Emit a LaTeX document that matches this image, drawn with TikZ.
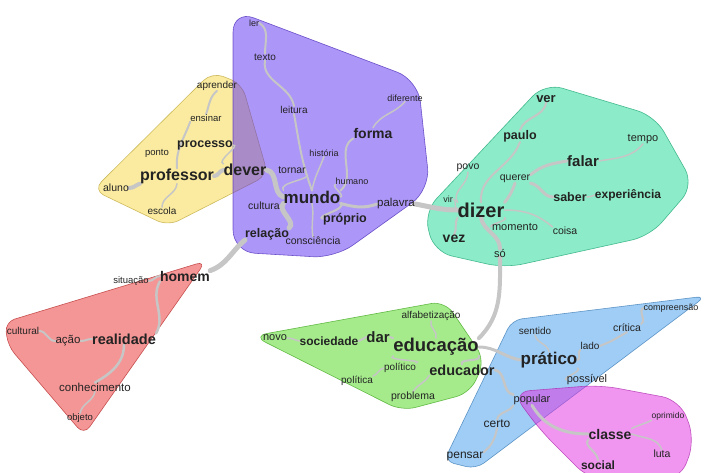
\documentclass[tikz,border=0pt]{standalone}
\usepackage{fontspec}
\setmainfont{Liberation Sans}
\usetikzlibrary{calc}

\definecolor{linkgray}{RGB}{198,198,198}
\definecolor{wordink}{RGB}{35,35,35}
\definecolor{haloyellow}{RGB}{245,215,65}
\definecolor{halopurple}{RGB}{90,45,240}
\definecolor{haloteal}{RGB}{25,215,145}
\definecolor{halored}{RGB}{235,45,45}
\definecolor{halogreen}{RGB}{75,215,25}
\definecolor{haloblue}{RGB}{65,155,235}
\definecolor{halomagenta}{RGB}{225,45,225}

\pgfdeclarelayer{halos}
\pgfdeclarelayer{links}
\pgfsetlayers{halos,links,main}

\begin{document}
\begin{tikzpicture}[
  x=1pt, y=-1pt,
  w/.style    = {inner sep=0pt, text=wordink, font=\fontsize{#1}{#1}\selectfont},
  wb/.style   = {inner sep=0pt, text=wordink, font=\fontsize{#1}{#1}\selectfont\bfseries},
  lnk/.style  = {draw=linkgray, line width=#1, line cap=round},
  halo/.style = {fill=#1, fill opacity=0.5, draw=#1!75!black, draw opacity=0.7,
                 line width=0.6pt, rounded corners=12pt},
]
  \useasboundingbox (0,0) rectangle (711,472);

  % ── halos ─────────────────────────────────────────────────────────────
  \begin{pgfonlayer}{halos}
  \path[halo=haloyellow]  (93,190) -- (212,72) -- (242,84) -- (268,175) -- (168,226) -- cycle;
  \path[halo=halopurple, rounded corners=22pt]
                          (233,10) -- (418,80) -- (430,190) -- (335,258) -- (233,252) -- cycle;
  \path[halo=haloteal, rounded corners=18pt]
                          (424,212) -- (545,83) -- (655,116) -- (694,185) -- (650,236)
                          -- (505,268) -- (434,252) -- cycle;
  \path[halo=halored, rounded corners=10pt]
                          (5,322) -- (206,261) -- (84,435) -- (8,346) -- cycle;
  \path[halo=halogreen, rounded corners=14pt]
                          (253,336) -- (445,301) -- (485,360) -- (470,393) -- (402,411) -- cycle;
  \path[halo=haloblue, rounded corners=10pt]
                          (512,320) -- (706,296) -- (476,469) -- (444,461) -- cycle;
  \path[halo=halomagenta, rounded corners=18pt]
                          (512,392) -- (600,385) -- (680,400) -- (695,440) -- (680,480)
                          -- (590,480) -- (540,430) -- cycle;
  \end{pgfonlayer}

  % ── words: professor / dever ──────────────────────────────────────────
  \node[w=10]    (aprender)  at (217,86)  {aprender};
  \node[w=9.5]   (ensinar)   at (206,118) {ensinar};
  \node[wb=12.5] (processo)  at (205,145) {processo};
  \node[w=9.5]   (ponto)     at (157,153) {ponto};
  \node[wb=16]   (professor) at (177,176) {professor};
  \node[wb=16]   (dever)     at (245,170) {dever};
  \node[w=10.5]  (aluno)     at (116,188) {aluno};
  \node[w=10]    (escola)    at (162,211) {escola};

  % ── words: mundo ──────────────────────────────────────────────────────
  \node[w=9]     (ler)       at (254,23)  {ler};
  \node[w=10]    (texto)     at (265,57)  {texto};
  \node[w=10]    (leitura)   at (294,110) {leitura};
  \node[w=9]     (diferente) at (405,98)  {diferente};
  \node[wb=14]   (forma)     at (373,133) {forma};
  \node[w=9]     (historia)  at (324,153) {história};
  \node[w=10.5]  (tornar)    at (292,170) {tornar};
  \node[w=9]     (humano)    at (352,181) {humano};
  \node[wb=17]   (mundo)     at (312,197) {mundo};
  \node[w=10.5]  (cultura)   at (264,206) {cultura};
  \node[w=11.5]  (palavra)   at (396,204) {palavra};
  \node[wb=12.5] (proprio)   at (345,219) {próprio};
  \node[wb=12.5] (relacao)   at (267,234) {relação};
  \node[w=10.5]  (conscien)  at (313,241) {consciência};

  % ── words: dizer ──────────────────────────────────────────────────────
  \node[wb=13]   (ver)       at (546,99)  {ver};
  \node[wb=12.5] (paulo)     at (520,136) {paulo};
  \node[w=11]    (tempo)     at (643,139) {tempo};
  \node[wb=15]   (falar)     at (583,161) {falar};
  \node[w=10.5]  (povo)      at (468,168) {povo};
  \node[w=10.5]  (querer)    at (515,179) {querer};
  \node[w=9]     (vir)       at (448,199) {vir};
  \node[wb=20]   (dizer)     at (481,210) {dizer};
  \node[wb=12.5] (saber)     at (570,197) {saber};
  \node[wb=12]   (experien)  at (628,195) {experiência};
  \node[w=11]    (momento)   at (515,227) {momento};
  \node[w=10.5]  (coisa)     at (565,231) {coisa};
  \node[wb=14]   (vez)       at (454,239) {vez};
  \node[w=11]    (so)        at (500,253) {só};

  % ── words: homem / realidade ──────────────────────────────────────────
  \node[wb=14]   (homem)     at (185,276) {homem};
  \node[w=9.5]   (situacao)  at (131,281) {situação};
  \node[w=10]    (cultural)  at (23,331)  {cultural};
  \node[w=11.5]  (acao)      at (68,341)  {ação};
  \node[wb=14.5] (realidade) at (124,339) {realidade};
  \node[w=11.5]  (conhecim)  at (95,387)  {conhecimento};
  \node[w=9.5]   (objeto)    at (80,418)  {objeto};

  % ── words: educação ───────────────────────────────────────────────────
  \node[w=10]    (alfabet)   at (431,316) {alfabetização};
  \node[w=11]    (novo)      at (275,338) {novo};
  \node[wb=12]   (sociedade) at (329,341) {sociedade};
  \node[wb=15]   (dar)       at (378,337) {dar};
  \node[wb=18.5] (educacao)  at (436,347) {educação};
  \node[w=10]    (politico)  at (400,368) {político};
  \node[wb=14.5] (educador)  at (462,370) {educador};
  \node[w=10]    (politica)  at (357,381) {política};
  \node[w=10.5]  (problema)  at (413,397) {problema};

  % ── words: prático / classe ───────────────────────────────────────────
  \node[w=9]     (compreens) at (671,308) {compreensão};
  \node[w=10.5]  (critica)   at (627,328) {crítica};
  \node[w=10]    (sentido)   at (535,331) {sentido};
  \node[w=10]    (lado)      at (590,346) {lado};
  \node[wb=17]   (pratico)   at (549,360) {prático};
  \node[w=11]    (possivel)  at (587,380) {possível};
  \node[w=11]    (popular)   at (532,400) {popular};
  \node[w=12]    (certo)     at (497,424) {certo};
  \node[w=12]    (pensar)    at (465,457) {pensar};
  \node[w=8.5]   (oprimido)  at (668,416) {oprimido};
  \node[wb=14]   (classe)    at (610,434) {classe};
  \node[w=10.5]  (luta)      at (662,454) {luta};
  \node[wb=12]   (social)    at (598,465) {social};

  % ── links (layer under the words) ─────────────────────────────────────
  \begin{pgfonlayer}{links}
  \path[lnk=4]   (aluno.east) to[out=0,in=200] (professor.south west);
  \path[lnk=4]   (professor.east) to[out=0,in=190] (dever.west);
  \path[lnk=2]   (professor.north) to[out=95,in=250] (ensinar.south west);
  \path[lnk=2]   (ensinar.north) to[out=70,in=220] (aprender.south);
  \path[lnk=1.5] (professor.south) to[out=265,in=90] (escola.north);
  \path[lnk=1.5] (dever.north west) to[out=160,in=0] (processo.east);
  \path[lnk=5]   (dever.east) to[out=-10,in=160] (mundo.west);
  \path[lnk=2]   (ler.east) to[out=-30,in=90] (texto.north);
  \path[lnk=2]   (texto.south) to[out=-100,in=100] (leitura.north);
  \path[lnk=2]   (leitura.south) to[out=-80,in=110] (mundo.north);
  \path[lnk=2]   (forma.south west) to[out=210,in=40] (mundo.north east);
  \path[lnk=1.5] (forma.north) to[out=60,in=230] (diferente.south);
  \path[lnk=1.5] (mundo.north) to[out=80,in=250] (historia.south);
  \path[lnk=1.5] (mundo.north west) to[out=130,in=-30] (tornar.south east);
  \path[lnk=1.5] (mundo.east) to[out=20,in=200] (humano.south west);
  \path[lnk=1.5] (mundo.south west) to[out=210,in=20] (cultura.east);
  \path[lnk=2]   (mundo.south east) to[out=-40,in=160] (proprio.west);
  \path[lnk=1.5] (mundo.south) to[out=-80,in=100] (conscien.north);
  \path[lnk=3]   (mundo.south east) to[out=-15,in=200] (palavra.west);
  \path[lnk=5]   (mundo.south west) to[out=225,in=40] (relacao.north east);
  \path[lnk=5]   (relacao.south west) to[out=220,in=20] (homem.north east);
  \path[lnk=5]   (palavra.east) to[out=-10,in=180] (dizer.west);
  \path[lnk=2]   (dizer.north) to[out=95,in=250] (paulo.south);
  \path[lnk=2]   (paulo.north) to[out=70,in=260] (ver.south);
  \path[lnk=1.5] (dizer.north west) to[out=120,in=270] (povo.south);
  \path[lnk=1.5] (dizer.west) to[out=160,in=0] (vir.east);
  \path[lnk=3]   (dizer.north east) to[out=50,in=250] (querer.south);
  \path[lnk=3]   (querer.north east) to[out=40,in=190] (falar.west);
  \path[lnk=1.5] (falar.east) to[out=10,in=230] (tempo.south);
  \path[lnk=3]   (querer.south east) to[out=-10,in=180] (saber.west);
  \path[lnk=1.5] (saber.east) to[out=-10,in=190] (experien.west);
  \path[lnk=1.5] (dizer.south east) to[out=-30,in=160] (momento.west);
  \path[lnk=1.5] (dizer.east) to[out=0,in=140] (coisa.north west);
  \path[lnk=2]   (dizer.south west) to[out=240,in=60] (vez.north);
  \path[lnk=4]   (dizer.south) to[out=-80,in=90] (so.north);
  \path[lnk=4]   (so.south) to[out=-90,in=45] (educacao.north east);
  \path[lnk=2]   (homem.west) to[out=180,in=0] (situacao.east);
  \path[lnk=2.5] (homem.south west) to[out=240,in=60] (realidade.north east);
  \path[lnk=2.5] (realidade.south) to[out=-90,in=30] (conhecim.north);
  \path[lnk=1.5] (conhecim.south) to[out=-100,in=80] (objeto.north);
  \path[lnk=2]   (realidade.west) to[out=180,in=0] (acao.east);
  \path[lnk=2]   (acao.west) to[out=180,in=0] (cultural.east);
  \path[lnk=2]   (educacao.north west) to[out=150,in=0] (dar.east);
  \path[lnk=2]   (dar.west) to[out=190,in=0] (sociedade.east);
  \path[lnk=1.5] (sociedade.west) to[out=170,in=0] (novo.east);
  \path[lnk=1.5] (educacao.north) to[out=70,in=250] (alfabet.south);
  \path[lnk=1.5] (educacao.south west) to[out=210,in=20] (politico.north east);
  \path[lnk=1.5] (politico.west) to[out=190,in=20] (politica.north east);
  \path[lnk=2]   (educacao.south east) to[out=-60,in=120] (educador.north);
  \path[lnk=1.5] (educador.south west) to[out=240,in=60] (problema.north);
  \path[lnk=3]   (educacao.east) to[out=0,in=170] (pratico.west);
  \path[lnk=2.5] (educador.east) to[out=-10,in=170] (popular.north west);
  \path[lnk=1.5] (pratico.north) to[out=100,in=-80] (sentido.south);
  \path[lnk=2]   (pratico.east) to[out=0,in=200] (lado.south west);
  \path[lnk=2]   (lado.east) to[out=20,in=210] (critica.south);
  \path[lnk=2]   (critica.north east) to[out=30,in=200] (compreens.west);
  \path[lnk=1.5] (pratico.south east) to[out=-30,in=160] (possivel.west);
  \path[lnk=2]   (popular.south west) to[out=240,in=80] (certo.north);
  \path[lnk=2]   (certo.south) to[out=-100,in=40] (pensar.north east);
  \path[lnk=3]   (popular.south) to[out=-60,in=180] (classe.west);
  \path[lnk=1.5] (classe.north east) to[out=30,in=210] (oprimido.south west);
  \path[lnk=1.5] (classe.east) to[out=-20,in=110] (luta.north);
  \path[lnk=2]   (classe.south west) to[out=230,in=90] (social.north);
  \end{pgfonlayer}

\end{tikzpicture}
\end{document}
